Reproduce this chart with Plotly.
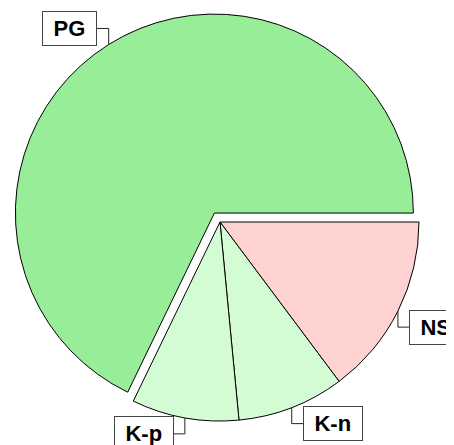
import math
import plotly.graph_objects as go

# ---- data ----
labels = ["NS", "K-n", "K-p", "PG"]
values = [17, 10, 10, 78]
colors = ["#FFD2D2", "#D4FCD4", "#D4FCD4", "#98EE98"]
pulls = [0, 0, 0, 0.053]

W, H = 454, 445
dom_x = [0.0054, 0.9285]
dom_y = [0.0482, 0.9900]

fig = go.Figure(go.Pie(
    labels=labels, values=values, sort=False, direction="clockwise",
    rotation=90, pull=pulls, textinfo="none", hoverinfo="label+value",
    marker=dict(colors=colors, line=dict(color="#000000", width=1)),
    domain=dict(x=dom_x, y=dom_y), showlegend=False,
))

# ---- label boxes with elbow leader lines, derived from slice angles ----
aw = (dom_x[1] - dom_x[0]) * W
ah = (dom_y[1] - dom_y[0]) * H
maxpull = max(pulls)
r = min(aw, ah) / (2 + 2 * maxpull)
cx = W * (dom_x[0] + dom_x[1]) / 2
cy = H * (1 - (dom_y[0] + dom_y[1]) / 2)

total = sum(values)
start = 0.0
shapes, annots = [], []
font_size = 22
char_w = {"N": .722, "S": .667, "K": .722, "-": .333, "n": .611, "p": .611, "P": .667, "G": .778}
for lab, v, p in zip(labels, values, pulls):
    span = 360.0 * v / total
    mid = math.radians(start + span / 2)
    start += span
    ox, oy = cx + p * r * math.cos(mid), cy + p * r * math.sin(mid)
    px, py = ox + r * math.cos(mid), oy + r * math.sin(mid)
    vy = py + (16 if math.sin(mid) > 0 else -16)
    sgn = 1 if math.cos(mid) > 0 else -1
    hx = px + sgn * 12
    shapes.append(dict(type="path", xref="paper", yref="paper",
                       path=f"M {px/W} {1-py/H} L {px/W} {1-vy/H} L {hx/W} {1-vy/H}",
                       line=dict(color="#222222", width=1)))
    tw = sum(char_w.get(c, .6) for c in lab) * font_size
    bw = tw + 22
    bcx = hx + sgn * bw / 2
    annots.append(dict(x=bcx / W, y=1 - vy / H, xref="paper", yref="paper",
                       text=f"<b>{lab}</b>", showarrow=False,
                       xanchor="center", yanchor="middle",
                       width=bw - 3, height=31, borderpad=1,
                       bgcolor="white", bordercolor="#444444", borderwidth=1,
                       font=dict(family="Liberation Sans, Arial", size=font_size, color="black")))

fig.update_layout(
    width=W, height=H, margin=dict(l=0, r=0, t=0, b=0),
    paper_bgcolor="white", plot_bgcolor="white",
    shapes=shapes, annotations=annots,
)
fig.write_html("out.html")
